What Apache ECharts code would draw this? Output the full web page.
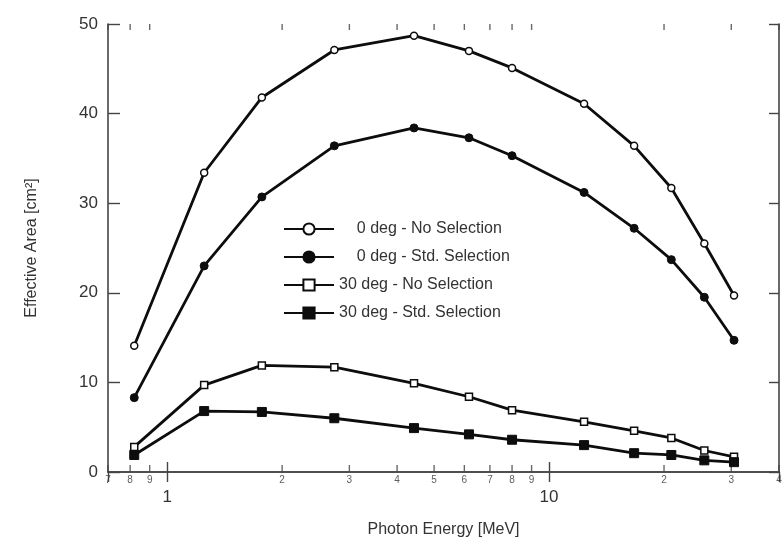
<!DOCTYPE html>
<html>
<head>
<meta charset="utf-8">
<script src="https://cdn.jsdelivr.net/npm/echarts@6/dist/echarts.min.js"></script>
<style>
html,body{margin:0;padding:0;background:#fff;}
#c{width:782px;height:548px;}
</style>
</head>
<body>
<div id="c"></div>
<script>
// Photon energy [MeV]
var energy = [0.82, 1.25, 1.77, 2.74, 4.43, 6.17, 8.0, 12.35, 16.7, 20.9, 25.5, 30.5];
var deg0NoSel  = [14.1, 33.4, 41.8, 47.1, 48.7, 47.0, 45.1, 41.1, 36.4, 31.7, 25.5, 19.7];
var deg0Std    = [8.3, 23.0, 30.7, 36.4, 38.4, 37.3, 35.3, 31.2, 27.2, 23.7, 19.5, 14.7];
var deg30NoSel = [2.8, 9.7, 11.9, 11.7, 9.9, 8.4, 6.9, 5.6, 4.6, 3.8, 2.4, 1.7];
var deg30Std   = [1.9, 6.8, 6.7, 6.0, 4.9, 4.2, 3.6, 3.0, 2.1, 1.9, 1.3, 1.1];
var seriesNames = ['0 deg - No Selection', '0 deg - Std. Selection', '30 deg - No Selection', '30 deg - Std. Selection'];
// minor log ticks and their digit labels
var minorTicks  = [0.7, 0.8, 0.9, 2, 3, 4, 5, 6, 7, 8, 9, 20, 30, 40];
var minorLabels = ['7', '8', '9', '2', '3', '4', '5', '6', '7', '8', '9', '2', '3', '4'];
var majorLabels = {1: '1', 10: '10'};
var yTicks = [0, 10, 20, 30, 40, 50];

var FONT = '"Liberation Sans", Arial, Helvetica, sans-serif';
var TXT = '#333';
var LINE = '#0d0d0d';

function pairs(ys) { return energy.map(function (e, i) { return [e, ys[i]]; }); }

var chart = echarts.init(document.getElementById('c'), null, {renderer: 'canvas'});

var axisLine = {show: true, lineStyle: {color: '#444', width: 1.6}};

var option = {
  backgroundColor: '#fff',
  animation: false,
  textStyle: {fontFamily: FONT},
  grid: {left: 108, right: 3, top: 24, bottom: 76, containLabel: false},
  legend: {
    orient: 'vertical',
    left: 278,
    top: 216,
    itemWidth: 50,
    itemHeight: 14,
    itemGap: 12,
    data: seriesNames,
    textStyle: {fontFamily: FONT, fontSize: 16, color: TXT, lineHeight: 16},
    formatter: function (n) { return n.indexOf('0 deg') === 0 ? '\u2007\u2007' + n : n; },
    selectedMode: false
  },
  xAxis: [
    {
      type: 'log', logBase: 10, min: 0.7, max: 40, position: 'bottom',
      name: 'Photon Energy [MeV]', nameLocation: 'middle', nameGap: 50,
      nameTextStyle: {fontFamily: FONT, fontSize: 16, color: TXT},
      axisLine: axisLine,
      axisTick: {show: true, inside: true, length: 10, lineStyle: {color: '#444', width: 1.4}},
      axisLabel: {
        show: true, margin: 17, fontSize: 17, color: TXT, fontFamily: FONT,
        showMinLabel: false, showMaxLabel: false,
        formatter: function (v) { return majorLabels[Math.round(v)] !== undefined && Math.abs(v - Math.round(v)) < 1e-6 ? majorLabels[Math.round(v)] : ''; }
      },
      splitLine: {show: false}
    },
    {
      type: 'log', logBase: 10, min: 0.7, max: 40, position: 'top',
      axisLine: axisLine,
      axisTick: {show: true, inside: true, length: 10, lineStyle: {color: '#444', width: 1.4}},
      axisLabel: {show: false},
      splitLine: {show: false}
    }
  ],
  yAxis: [
    {
      type: 'value', min: 0, max: 50, interval: 10, position: 'left',
      name: 'Effective Area [cm²]', nameLocation: 'middle', nameGap: 68, nameRotate: 90,
      nameTextStyle: {fontFamily: FONT, fontSize: 16, color: TXT},
      axisLine: axisLine,
      axisTick: {show: true, inside: true, length: 12, lineStyle: {color: '#444', width: 1.4}},
      axisLabel: {show: true, margin: 10, fontSize: 17, color: TXT, fontFamily: FONT},
      splitLine: {show: false}
    },
    {
      type: 'value', min: 0, max: 50, interval: 10, position: 'right',
      axisLine: axisLine,
      axisTick: {show: true, inside: true, length: 10, lineStyle: {color: '#444', width: 1.4}},
      axisLabel: {show: false},
      splitLine: {show: false}
    }
  ],
  series: [
    {
      name: seriesNames[0], type: 'line', data: pairs(deg0NoSel),
      symbol: 'circle', symbolSize: 7, showAllSymbol: true,
      lineStyle: {color: LINE, width: 2.8},
      itemStyle: {color: '#fff', borderColor: LINE, borderWidth: 1.5},
      z: 5
    },
    {
      name: seriesNames[1], type: 'line', data: pairs(deg0Std),
      symbol: 'circle', symbolSize: 8, showAllSymbol: true,
      lineStyle: {color: LINE, width: 2.8},
      itemStyle: {color: LINE, borderColor: LINE, borderWidth: 1},
      z: 5
    },
    {
      name: seriesNames[2], type: 'line', data: pairs(deg30NoSel),
      symbol: 'rect', symbolSize: 7, showAllSymbol: true,
      lineStyle: {color: LINE, width: 2.8},
      itemStyle: {color: '#fff', borderColor: LINE, borderWidth: 1.5},
      z: 5
    },
    {
      name: seriesNames[3], type: 'line', data: pairs(deg30Std),
      symbol: 'rect', symbolSize: 9, showAllSymbol: true,
      lineStyle: {color: LINE, width: 2.8},
      itemStyle: {color: LINE, borderColor: LINE, borderWidth: 1},
      z: 5
    },
    {
      // bottom minor log ticks with digit labels
      type: 'scatter', xAxisIndex: 0, yAxisIndex: 0, clip: false, silent: true,
      data: minorTicks.map(function (v, i) { return {value: [v, 0], label: {formatter: minorLabels[i]}}; }),
      symbol: 'rect', symbolSize: [1.4, 7], symbolOffset: [0, -3.5],
      itemStyle: {color: '#444'},
      label: {show: true, position: 'bottom', distance: 3, fontSize: 10, color: TXT, fontFamily: FONT},
      z: 3
    },
    {
      // top minor log ticks
      type: 'scatter', xAxisIndex: 0, yAxisIndex: 0, clip: false, silent: true,
      data: minorTicks.map(function (v) { return [v, 50]; }),
      symbol: 'rect', symbolSize: [1.4, 6], symbolOffset: [0, 3],
      itemStyle: {color: '#444'},
      z: 3
    }
  ]
};
chart.setOption(option);
</script>
</body>
</html>
